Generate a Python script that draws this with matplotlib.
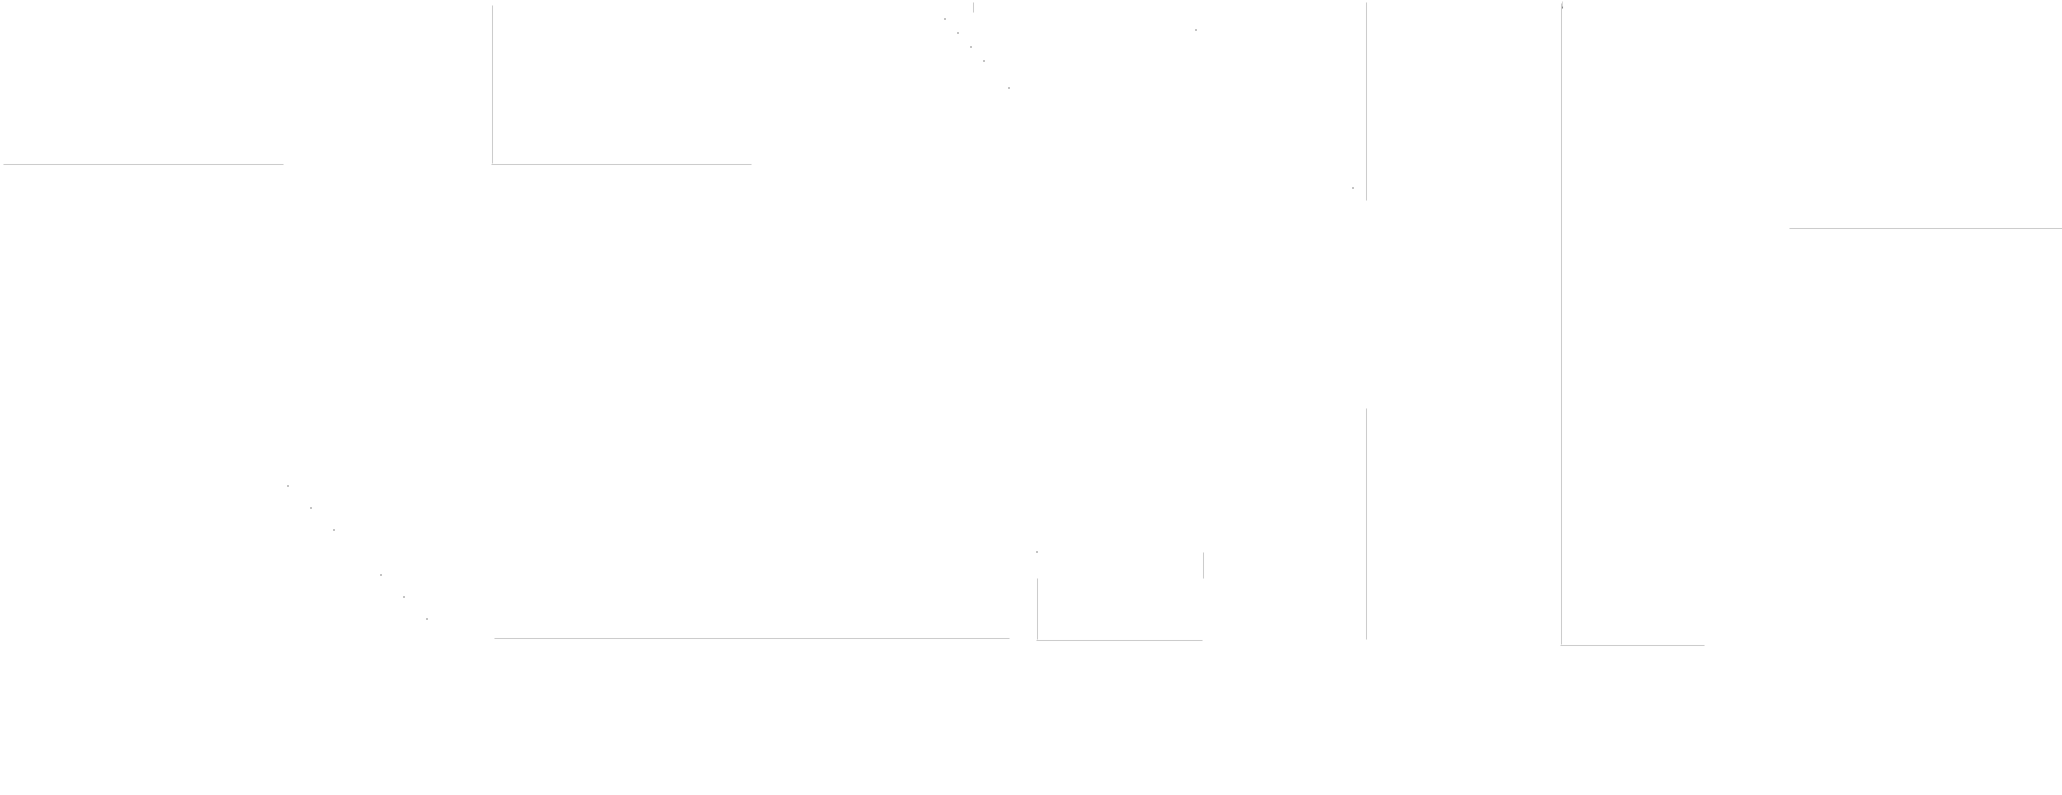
import matplotlib
matplotlib.use("Agg")
import matplotlib.pyplot as plt

W, H = 2062, 795

# Faint marker series (pixel-space data)
dots_top_x = [944, 957, 970, 983, 1008]
dots_top_y = [18, 32, 46, 60, 87]
dots_low_x = [287, 310, 333, 380, 403, 426]
dots_low_y = [485, 507, 529, 574, 596, 618]
dots_misc_x = [1195, 1352, 1036]
dots_misc_y = [29, 187, 551]

# Axis-frame segments (horizontal: y, x0, x1 ; vertical: x, y0, y1)
h_y = [163, 163, 227, 637, 639, 644]
h_x0 = [3, 491, 1789, 494, 1036, 1560]
h_x1 = [283, 751, 2062, 1009, 1202, 1704]
v_x = [491, 972, 1365, 1365, 1560, 1036, 1202]
v_y0 = [5, 2, 2, 408, 3, 578, 552]
v_y1 = [163, 12, 200, 639, 644, 639, 578]

fig = plt.figure(figsize=(W / 100, H / 100), dpi=100)
fig.patch.set_facecolor("white")
ax = fig.add_axes([0, 0, 1, 1])
ax.set_xlim(0, W)
ax.set_ylim(H, 0)
ax.axis("off")

line_col = "#cccccc"
lw = 0.75
ax.hlines([y + 0.5 for y in h_y], h_x0, h_x1, colors=line_col, linewidth=lw)
ax.vlines([x + 0.5 for x in v_x], v_y0, v_y1, colors=line_col, linewidth=lw)
# small darker tick at top of right frame
ax.vlines([1561.5], [1], [6], colors="#d8d8d8", linewidth=lw)
ax.vlines([1561.5], [6], [8], colors="#888888", linewidth=lw)

dot_col = "#c4c4c4"
for xs, ys in ((dots_top_x, dots_top_y), (dots_low_x, dots_low_y), (dots_misc_x, dots_misc_y)):
    ax.scatter([x + 0.5 for x in xs], [y + 0.5 for y in ys], s=0.6, c=dot_col,
               marker="s", linewidths=0)

fig.savefig("out.png", dpi=100, facecolor="white")
